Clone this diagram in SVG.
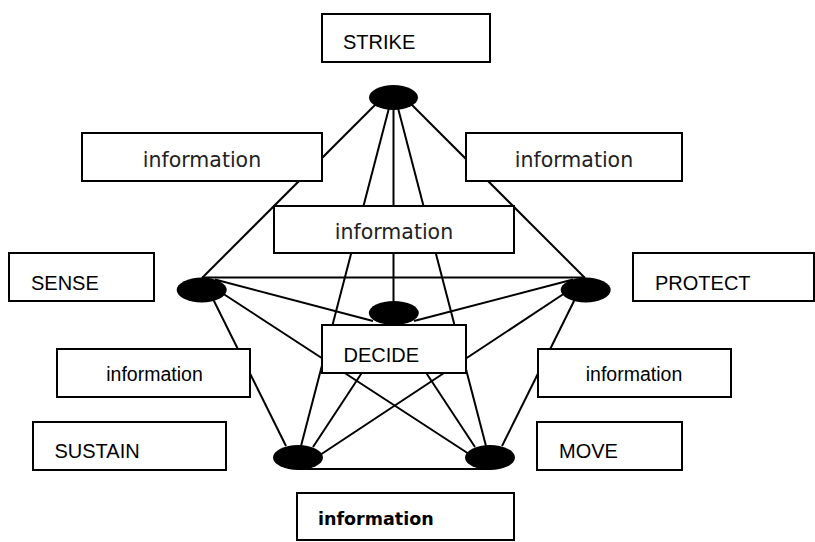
<svg xmlns="http://www.w3.org/2000/svg" width="815" height="542" viewBox="0 0 815 542">
<style>
.bg{fill:#fff}
.box{fill:#fff;stroke:#000;stroke-width:2}
.dot{fill:#000;stroke:none}
.ln{stroke:#000;stroke-width:2;fill:none}
.lbl{font-family:"Liberation Sans",Arial,sans-serif;font-size:20px;fill:#000}
.info{font-family:"DejaVu Sans","Liberation Sans",sans-serif;font-size:20.5px;fill:#222;text-anchor:middle}
.info2{font-family:"Liberation Sans",Arial,sans-serif;font-size:19.5px;fill:#000;text-anchor:middle}
.infob{font-family:"DejaVu Sans","Liberation Sans",sans-serif;font-size:17.5px;font-weight:bold;fill:#000}
</style>
<rect class="bg" x="0" y="0" width="815" height="542"/>
<g id="connectors">
<line class="ln" x1="376" y1="104" x2="202" y2="278"/>
<line class="ln" x1="411" y1="104" x2="585" y2="278"/>
<line class="ln" x1="393.5" y1="108" x2="393.5" y2="303"/>
<line class="ln" x1="389" y1="108" x2="301" y2="446"/>
<line class="ln" x1="398" y1="108" x2="486" y2="446"/>
<line class="ln" x1="202" y1="277.5" x2="585" y2="277.5"/>
<line class="ln" x1="215" y1="279.5" x2="373" y2="321"/>
<line class="ln" x1="573" y1="279.5" x2="414" y2="321"/>
<line class="ln" x1="213" y1="299" x2="286" y2="446"/>
<line class="ln" x1="575" y1="299" x2="502" y2="446"/>
<line class="ln" x1="222" y1="293" x2="469" y2="454"/>
<line class="ln" x1="565" y1="293" x2="320" y2="455"/>
<line class="ln" x1="394" y1="324" x2="313" y2="447"/>
<line class="ln" x1="394" y1="324" x2="475" y2="447"/>
<line class="ln" x1="298" y1="469" x2="490" y2="469"/>
</g>
<g id="node-strike-dot"><ellipse class="dot" cx="393.5" cy="97.5" rx="24.5" ry="12.5"/></g>
<g id="node-sense-dot"><ellipse class="dot" cx="201.7" cy="290" rx="25" ry="12.5"/></g>
<g id="node-protect-dot"><ellipse class="dot" cx="585.7" cy="290" rx="25" ry="12.5"/></g>
<g id="node-decide-dot"><ellipse class="dot" cx="393.8" cy="313" rx="25" ry="12"/></g>
<g id="node-sustain-dot"><ellipse class="dot" cx="298" cy="457.5" rx="25" ry="12.5"/></g>
<g id="node-move-dot"><ellipse class="dot" cx="490" cy="457.5" rx="25" ry="12.5"/></g>
<g id="label-strike"><rect class="box" x="322" y="14" width="168" height="48"/><text class="lbl" x="343" y="49">STRIKE</text></g>
<g id="info-top-left"><rect class="box" x="82" y="133" width="240" height="48"/><text class="info" x="202" y="166.5">information</text></g>
<g id="info-top-right"><rect class="box" x="466" y="133" width="216" height="48"/><text class="info" x="574" y="166.5">information</text></g>
<g id="info-middle"><rect class="box" x="274" y="206" width="240" height="47"/><text class="info" x="394" y="239">information</text></g>
<g id="label-sense"><rect class="box" x="9" y="253" width="145" height="48"/><text class="lbl" x="31" y="289.5">SENSE</text></g>
<g id="label-protect"><rect class="box" x="633" y="253" width="181" height="48"/><text class="lbl" x="655" y="289.5">PROTECT</text></g>
<g id="label-decide"><rect class="box" x="322" y="325" width="144" height="48"/><text class="lbl" x="343.5" y="361.5">DECIDE</text></g>
<g id="info-lower-left"><rect class="box" x="57" y="349" width="193" height="48"/><text class="info2" x="154.5" y="380.5">information</text></g>
<g id="info-lower-right"><rect class="box" x="538" y="349" width="193" height="48"/><text class="info2" x="634" y="380.5">information</text></g>
<g id="label-sustain"><rect class="box" x="33" y="422" width="193" height="48"/><text class="lbl" x="54.5" y="457.5">SUSTAIN</text></g>
<g id="label-move"><rect class="box" x="537" y="422" width="145" height="48"/><text class="lbl" x="559" y="457.5">MOVE</text></g>
<g id="info-bottom"><rect class="box" x="297" y="493" width="217" height="47"/><text class="infob" x="318" y="525">information</text></g>
</svg>
